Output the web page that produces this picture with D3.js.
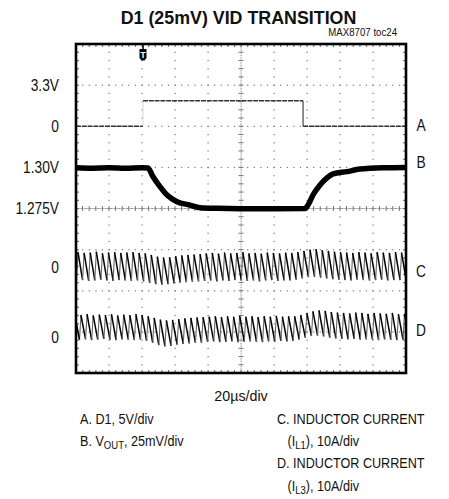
<!DOCTYPE html>
<html>
<head>
<meta charset="utf-8">
<script src="https://cdn.jsdelivr.net/npm/d3@7"></script>
<style>
  html, body { margin: 0; padding: 0; background: #fff; }
  svg { display: block; }
  text { font-family: "Liberation Sans", Arial, "Helvetica Neue", sans-serif; fill: #111; }
</style>
</head>
<body>
<svg id="chart" width="449" height="499"></svg>
<script>
// ---------- data ----------
const title = "D1 (25mV) VID TRANSITION";
const tocLabel = "MAX8707 toc24";
const timeDivLabel = "20\u00b5s/div";
const timeDomain = [0, 200];            // µs, 10 div x 20 µs
const divDomain = [-4, 4];              // vertical divisions

// left-side level labels: text, vertical position in divisions
const levelLabels = ["3.3V", "0", "1.30V", "1.275V", "0", "0"];
const levelDivs   = [3, 2, 1, 0, -1.42, -3.12];

// right-side trace letters
const traceNames = ["A", "B", "C", "D"];
const traceNameDivs = [2.03, 1.12, -1.52, -2.96];

// Channel A: D1 logic (V), 5 V/div, zero at +2 div
const aTimes  = [0, 40.6, 40.6, 137.6, 137.6, 200];
const aValues = [0, 0,    3.1,  3.1,   0,     0];
const triggerTime = 40.6;

// Channel B: VOUT (V), 25 mV/div, 1.275 V at 0 div
const bTimes  = [0, 10, 20, 30, 40, 43.6, 46.7, 50.9, 55.2, 61.2, 69.1, 75.2, 85.5, 100, 120, 138.8,
                 140.6, 143.6, 147.9, 152.1, 155.8, 164.2, 172.1, 186.1, 200];
const bValues = [1.2998, 1.2995, 1.2997, 1.2994, 1.2998, 1.2996, 1.2943, 1.2883, 1.2832, 1.2791, 1.2771,
                 1.2755, 1.2751, 1.2749, 1.2749, 1.2750, 1.2771, 1.2832, 1.2893, 1.2936, 1.2960,
                 1.2974, 1.2990, 1.2998, 1.3000];

// Channels C and D: inductor currents (A), 10 A/div; per switching cycle
const cyclePeriod = 3.7;   // µs
const riseTime = 0.9;      // µs
const cStart = 0.3, dStart = 2.1;
const cPeaks = [3.6,3.4,3.5,3.7,3.3,3.5,3.6,3.4,3.5,3.6,3.4,
                3.3,2.9,2.5,2.3,2.4,2.6,2.8,2.9,3.0,3.1,
                3.3,3.4,3.2,3.5,3.3,3.4,3.6,3.3,3.4,3.2,3.5,3.4,3.3,3.5,3.4,
                3.6,3.9,4.2,4.3,4.1,3.9,3.7,
                3.6,3.5,3.4,3.6,3.5,3.3,3.6,3.5,3.4,3.6,3.5,3.5];
const cValleys = [-3.3,-3.2,-3.4,-3.3,-3.1,-3.3,-3.4,-3.2,-3.3,-3.4,-3.3,
                  -3.5,-3.9,-4.2,-4.3,-4.2,-4.0,-3.8,-3.7,-3.6,-3.5,
                  -3.4,-3.3,-3.5,-3.3,-3.4,-3.2,-3.3,-3.4,-3.3,-3.5,-3.3,-3.2,-3.4,-3.3,-3.3,
                  -3.1,-2.8,-2.5,-2.4,-2.6,-2.8,-3.0,
                  -3.1,-3.2,-3.3,-3.1,-3.2,-3.3,-3.2,-3.1,-3.3,-3.2,-3.2,-3.2];
const dPeaks = [5.3,5.5,5.2,5.4,5.3,5.5,5.2,5.4,5.3,5.5,5.3,
                5.0,4.6,4.2,4.0,4.1,4.3,4.5,4.6,4.7,4.8,
                4.9,5.0,4.8,5.0,4.9,5.1,4.9,5.0,4.8,5.0,4.9,5.1,4.9,5.0,5.0,
                5.3,5.8,6.2,6.4,6.3,6.0,5.9,
                5.8,5.7,5.9,5.8,5.6,5.8,5.7,5.6,5.8,5.5,5.6,5.5];
const dValleys = [-0.7,-0.6,-0.8,-0.7,-0.5,-0.7,-0.8,-0.6,-0.7,-0.8,-0.7,
                  -1.0,-1.5,-2.0,-2.3,-2.2,-1.9,-1.7,-1.6,-1.5,-1.4,
                  -1.2,-1.1,-1.3,-1.2,-1.1,-1.3,-1.2,-1.1,-1.2,-1.3,-1.1,-1.2,-1.0,-1.1,-1.0,
                  -0.7,-0.2,0.2,0.3,0.1,-0.2,-0.4,
                  -0.5,-0.6,-0.5,-0.7,-0.6,-0.7,-0.8,-0.6,-0.7,-0.8,-0.7,-0.7];

// channel scaling: value -> divisions
const chA = { zeroDiv: 2, perDiv: 5 };
const chB = { refValue: 1.275, perDiv: 0.025 };
const chC = { zeroDiv: -1.42, perDiv: 10 };
const chD = { zeroDiv: -3.12, perDiv: 10 };

// legend
const legendLeft  = [["A. D1, 5V/div"], ["B. V", "OUT", ", 25mV/div"]];
const legendRight = [["C. INDUCTOR CURRENT"], ["   (I", "L1", "), 10A/div"], ["D. INDUCTOR CURRENT"], ["   (I", "L3", "), 10A/div"]];

// ---------- drawing ----------
const svg = d3.select("#chart");
const plot = { left: 76, right: 406, top: 44, bottom: 373 };
const x = d3.scaleLinear().domain(timeDomain).range([plot.left, plot.right]);
const y = d3.scaleLinear().domain(divDomain).range([plot.bottom, plot.top]);

svg.append("defs").append("clipPath").attr("id", "clip")
  .append("rect").attr("x", plot.left).attr("y", plot.top)
  .attr("width", plot.right - plot.left).attr("height", plot.bottom - plot.top);

// condensed text helper
function ctext(parent, xx, yy, str, size, sx, anchor, weight) {
  const t = parent.append("text")
    .attr("transform", `translate(${xx},${yy}) scale(${sx},1)`)
    .attr("text-anchor", anchor || "start")
    .style("font-size", size + "px");
  if (weight) t.style("font-weight", weight);
  if (str !== null) t.text(str);
  return t;
}

// title
ctext(svg, 238.5, 23.5, title, 18, 0.99, "middle", "bold");
ctext(svg, 397, 36, tocLabel, 10.5, 0.92, "end");

// grid
const grid = svg.append("g").attr("fill", "#777");
const xMinor = d3.range(timeDomain[0], timeDomain[1] + 0.001, 4);
const yMinor = d3.range(divDomain[0], divDomain[1] + 0.001, 0.2);
const xMajor = d3.range(20, 200, 20);
const yMajor = d3.range(-3, 4, 1);
yMajor.forEach(dv => {
  if (dv === 0) return;
  xMinor.forEach(t => grid.append("rect").attr("x", x(t) - 0.5).attr("y", y(dv) - 0.5).attr("width", 1.2).attr("height", 1.2));
});
xMajor.forEach(t => {
  if (t === 100) return;
  yMinor.forEach(dv => grid.append("rect").attr("x", x(t) - 0.5).attr("y", y(dv) - 0.5).attr("width", 1.2).attr("height", 1.2));
});
const fineX = d3.range(timeDomain[0], timeDomain[1] + 0.001, 0.8);
const fineY = d3.range(divDomain[0], divDomain[1] + 0.001, 0.04);
fineX.forEach(t => grid.append("rect").attr("x", x(t) - 0.4).attr("y", y(0) - 0.4).attr("width", 0.9).attr("height", 0.9));
fineY.forEach(dv => grid.append("rect").attr("x", x(100) - 0.4).attr("y", y(dv) - 0.4).attr("width", 0.9).attr("height", 0.9));
xMinor.forEach(t => grid.append("rect").attr("x", x(t) - 0.5).attr("y", y(0) - 2.5).attr("width", 1).attr("height", 5));
yMinor.forEach(dv => grid.append("rect").attr("x", x(100) - 2.5).attr("y", y(dv) - 0.5).attr("width", 5).attr("height", 1));
xMinor.forEach(t => {
  grid.append("rect").attr("x", x(t) - 0.5).attr("y", plot.top + 1).attr("width", 1.2).attr("height", 2);
  grid.append("rect").attr("x", x(t) - 0.5).attr("y", plot.bottom - 3).attr("width", 1.2).attr("height", 2);
});
yMinor.forEach(dv => {
  grid.append("rect").attr("x", plot.left + 1).attr("y", y(dv) - 0.5).attr("width", 2).attr("height", 1.2);
  grid.append("rect").attr("x", plot.right - 3).attr("y", y(dv) - 0.5).attr("width", 2).attr("height", 1.2);
});

const traces = svg.append("g").attr("clip-path", "url(#clip)");

// Channel A (the fast rising edge is barely visible on the scope)
const aPts = aTimes.map((t, i) => [t, chA.zeroDiv + aValues[i] / chA.perDiv]);
const aSegs = d3.pairs(aPts);
traces.append("g").selectAll("line").data(aSegs).join("line")
  .attr("x1", d => x(d[0][0])).attr("y1", d => y(d[0][1]))
  .attr("x2", d => x(d[1][0])).attr("y2", d => y(d[1][1]))
  .attr("stroke", d => (d[0][0] === d[1][0] && d[1][1] > d[0][1]) ? "#ddd" : "#333")
  .attr("stroke-width", d => (d[0][0] === d[1][0]) ? 1.1 : 1.4)
  .attr("stroke-dasharray", d => (d[0][0] === d[1][0]) ? null : "5,0.8");

// Channel B
const bPts = bTimes.map((t, i) => [t, (bValues[i] - chB.refValue) / chB.perDiv]);
traces.append("path").attr("d", d3.line().curve(d3.curveMonotoneX).x(d => x(d[0])).y(d => y(d[1]))(bPts))
  .attr("fill", "none").attr("stroke", "#000").attr("stroke-width", 5.5).attr("stroke-linejoin", "round");

// Channels C & D
function sawSegments(start, peaks, valleys, ch) {
  const segs = [];
  for (let k = 0; k < peaks.length; k++) {
    const t0 = start + k * cyclePeriod;
    const tp = t0 + riseTime;
    const t1 = t0 + cyclePeriod;
    const nextValley = valleys[Math.min(k + 1, valleys.length - 1)];
    segs.push({ kind: "rise", x1: t0, y1: valleys[k], x2: tp, y2: peaks[k] });
    segs.push({ kind: "fall", x1: tp, y1: peaks[k], x2: t1, y2: nextValley });
  }
  segs.push({ kind: "fall", x1: start - cyclePeriod + riseTime, y1: peaks[0], x2: start, y2: valleys[0] });
  return segs.map(s => ({ ...s, d1: ch.zeroDiv + s.y1 / ch.perDiv, d2: ch.zeroDiv + s.y2 / ch.perDiv }));
}
[[cStart, cPeaks, cValleys, chC], [dStart, dPeaks, dValleys, chD]].forEach(([st, pk, vl, ch]) => {
  traces.append("g").selectAll("line").data(sawSegments(st, pk, vl, ch)).join("line")
    .attr("x1", d => x(d.x1)).attr("y1", d => y(d.d1))
    .attr("x2", d => x(d.x2)).attr("y2", d => y(d.d2))
    .attr("stroke", d => d.kind === "rise" ? "#666" : "#000")
    .attr("stroke-width", d => d.kind === "rise" ? 1.1 : 1.5);
});

// frame
svg.append("rect").attr("x", plot.left).attr("y", plot.top)
  .attr("width", plot.right - plot.left).attr("height", plot.bottom - plot.top)
  .attr("fill", "none").attr("stroke", "#000").attr("stroke-width", 2.6);

// trigger marker
const tg = svg.append("g").attr("transform", `translate(${x(triggerTime)},${plot.top})`);
tg.append("rect").attr("x", -0.8).attr("y", 0).attr("width", 1.6).attr("height", 6).attr("fill", "#000");
tg.append("path").attr("d", "M-3.5,5 h7 v9 l-2,2.5 h-3 l-2,-2.5 Z").attr("fill", "#000");
ctext(tg, 0, 13.5, "T", 9, 1, "middle", "bold").style("fill", "#fff");

// left level labels
const ll = svg.append("g");
levelLabels.forEach((d, i) => ctext(ll, 59, y(levelDivs[i]) + 5.8, d, 16, 0.86, "end"));

// right trace letters
const rl = svg.append("g");
traceNames.forEach((d, i) => ctext(rl, 421, y(traceNameDivs[i]) + 5.8, d, 16, 0.86, "middle"));

// time/div
ctext(svg, 241, 400.5, timeDivLabel, 15.5, 0.92, "middle");

// legend
function legendLine(parts, xx, yy) {
  const t = ctext(svg, xx, yy, null, 14.5, 0.87, "start").attr("xml:space", "preserve");
  parts.forEach((p, i) => {
    const sp = t.append("tspan").text(p);
    if (parts.length === 3 && i === 1) sp.attr("dy", 3).style("font-size", "11px");
    if (parts.length === 3 && i === 2) sp.attr("dy", -3);
  });
}
legendLeft.forEach((p, i) => legendLine(p, 80, 424 + i * 22));
legendRight.forEach((p, i) => legendLine(p, 277, 424 + i * 22.2));
</script>
</body>
</html>
